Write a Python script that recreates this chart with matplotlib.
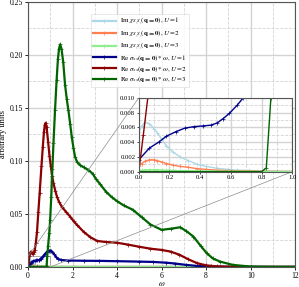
import numpy as np
import matplotlib
matplotlib.use('Agg')
import matplotlib.pyplot as plt
from matplotlib.ticker import MultipleLocator
from mpl_toolkits.axes_grid1.inset_locator import mark_inset

plt.rcParams['font.family'] = ['Liberation Serif', 'DejaVu Serif']
plt.rcParams['mathtext.fontset'] = 'stix'

# ── data ────────────────────────────────────────────────────
# Im chi_SzSz(q=0) for U = 1, 2, 3
w_im = [0.0, 0.02, 0.04, 0.07, 0.1, 0.12, 0.15, 0.18, 0.22, 0.27, 0.32, 0.38,
        0.44, 0.51, 0.58, 0.64, 0.72, 0.81, 0.9, 1.0, 1.5, 2.0, 4.0, 8.0, 12.0]
im_u1 = [0.0054, 0.0062, 0.0067, 0.0065, 0.0058, 0.0053, 0.0044, 0.0035, 0.0027,
         0.0020, 0.0015, 0.0010, 0.0007, 0.00045, 0.0003, 0.0002, 0.00015,
         0.0001, 0.00007, 0.00005, 0.0, 0.0, 0.0, 0.0, 0.0]
im_u2 = [0.0008, 0.0011, 0.0014, 0.0016, 0.0016, 0.0015, 0.0013, 0.0011, 0.0009,
         0.0007, 0.0006, 0.0004, 0.0003, 0.0002, 0.00015, 0.00012, 0.0001,
         0.00005, 0.00003, 0.00002, 0.0, 0.0, 0.0, 0.0, 0.0]
im_u3 = [0.0001, 0.00018, 0.00024, 0.00027, 0.00027, 0.00025, 0.00023, 0.0002,
         0.00017, 0.00014, 0.00012, 0.0001, 0.00008, 0.00006, 0.00005, 0.00004,
         0.00003, 0.00002, 0.00001, 0.0, 0.0, 0.0, 0.0, 0.0, 0.0]

# Re sigma_xx(q=0)*omega, U = 1
w_u1 = [0.0, 0.07, 0.13, 0.18, 0.24, 0.3, 0.36, 0.42, 0.47, 0.51, 0.55, 0.59,
        0.64, 0.68, 0.75, 0.85, 0.95, 1.0, 1.05, 1.15, 1.25, 1.35, 1.5, 1.8,
        2.5, 3.2, 4.0, 5.0, 5.6, 6.2, 6.6, 7.1, 7.6, 8.2, 9.0, 10.0, 12.0]
re_u1 = [0.0016, 0.0032, 0.0040, 0.0048, 0.0054, 0.0059, 0.0061, 0.0062, 0.0063,
         0.0066, 0.0072, 0.0079, 0.0090, 0.0100, 0.0120, 0.0143, 0.0153, 0.0154,
         0.0150, 0.0125, 0.0095, 0.0075, 0.0065, 0.0060, 0.0058, 0.0057, 0.0054,
         0.0050, 0.0047, 0.0040, 0.0032, 0.0019, 0.0009, 0.0004, 0.0001, 0.0, 0.0]

# Re sigma_xx(q=0)*omega, U = 2
w_u2 = [0.0, 0.03, 0.06, 0.1, 0.13, 0.17, 0.22, 0.27, 0.3, 0.35, 0.4, 0.46,
        0.52, 0.6, 0.66, 0.71, 0.75, 0.79, 0.83, 0.9, 0.96, 1.02, 1.08, 1.14,
        1.22, 1.3, 1.4, 1.51, 1.7, 1.89, 2.05, 2.2, 2.5, 2.8, 3.1, 3.5, 4.0,
        4.5, 5.0, 5.5, 6.0, 6.4, 6.8, 7.2, 7.6, 8.0, 8.5, 9.0, 10.0, 12.0]
re_u2 = [0.0, 0.005, 0.0102, 0.0135, 0.0145, 0.0135, 0.0120, 0.0140, 0.0160,
         0.0230, 0.0330, 0.0520, 0.0700, 0.0950, 0.1130, 0.1270, 0.1340, 0.1360,
         0.1320, 0.1180, 0.1050, 0.0950, 0.0860, 0.0790, 0.0720, 0.0660, 0.0610,
         0.0570, 0.0520, 0.0475, 0.0430, 0.0396, 0.0330, 0.0280, 0.0245, 0.0235,
         0.0228, 0.0210, 0.0190, 0.0172, 0.0160, 0.0145, 0.0115, 0.0072, 0.0035,
         0.0015, 0.0004, 0.0001, 0.0, 0.0]

# Re sigma_xx(q=0)*omega, U = 3
w_u3 = [0.0, 0.2, 0.4, 0.6, 0.8, 0.83, 0.86, 0.9, 0.95, 0.99, 1.04, 1.09, 1.14,
        1.21, 1.28, 1.34, 1.39, 1.44, 1.5, 1.58, 1.66, 1.74, 1.81, 1.89, 1.96,
        2.04, 2.11, 2.2, 2.34, 2.5, 2.71, 2.9, 3.05, 3.24, 3.5, 3.75, 4.0, 4.3,
        4.7, 5.1, 5.5, 6.0, 6.4, 6.83, 7.1, 7.43, 7.75, 8.03, 8.3, 8.63, 9.2,
        10.0, 11.0, 12.0]
re_u3 = [0.0, 0.0, 0.0, 0.0, 0.0, 0.0005, 0.010, 0.020, 0.032, 0.044, 0.066,
         0.092, 0.117, 0.148, 0.176, 0.196, 0.206, 0.210, 0.206, 0.193, 0.172,
         0.158, 0.148, 0.135, 0.123, 0.112, 0.104, 0.099, 0.096, 0.094, 0.0915,
         0.088, 0.083, 0.078, 0.071, 0.066, 0.062, 0.058, 0.054, 0.047, 0.040,
         0.035, 0.036, 0.0374, 0.034, 0.0286, 0.020, 0.0129, 0.008, 0.005,
         0.0019, 0.0003, 0.0, 0.0]

series = [
    (w_im, im_u1, 'lightblue', r'$\mathrm{Im}\ \chi_{S_zS_z}(\mathbf{q=0}), U=1$'),
    (w_im, im_u2, 'coral', r'$\mathrm{Im}\ \chi_{S_zS_z}(\mathbf{q=0}), U=2$'),
    (w_im, im_u3, 'lightgreen', r'$\mathrm{Im}\ \chi_{S_zS_z}(\mathbf{q=0}), U=3$'),
    (w_u1, re_u1, 'darkblue', r'$\mathrm{Re}\ \sigma_{xx}(\mathbf{q=0})*\omega, U=1$'),
    (w_u2, re_u2, 'darkred', r'$\mathrm{Re}\ \sigma_{xx}(\mathbf{q=0})*\omega, U=2$'),
    (w_u3, re_u3, 'darkgreen', r'$\mathrm{Re}\ \sigma_{xx}(\mathbf{q=0})*\omega, U=3$'),
]


def style_grid(a, xminor, yminor):
    a.xaxis.set_minor_locator(MultipleLocator(xminor))
    a.yaxis.set_minor_locator(MultipleLocator(yminor))
    a.grid(True, which='major', color='#d3d3d3', lw=1.0, ls='-')
    a.grid(True, which='minor', color='#d3d3d3', lw=0.6, ls='--')
    a.set_axisbelow(True)
    a.tick_params(which='minor', length=0)
    for s in a.spines.values():
        s.set_color('#555555')
        s.set_linewidth(0.8)


fig = plt.figure(figsize=(2.99, 2.87), dpi=100)
ax = fig.add_axes([0.094, 0.07, 0.893, 0.923])

for w, v, c, lab in series:
    ax.plot(w, v, color=c, lw=1.6, marker='+', ms=2.2, mew=0.5, label=lab)

ax.set_xlim(0, 12)
ax.set_ylim(0, 0.25)
ax.set_xticks(np.arange(0, 13, 2))
ax.set_yticks(np.arange(0, 0.26, 0.05))
ax.set_yticklabels(['0.00', '0.05', '0.10', '0.15', '0.20', '0.25'])
ax.set_xlabel(r'$\omega$', fontsize=6, labelpad=0)
ax.set_ylabel('arbitrary units', fontsize=6, labelpad=2)
ax.tick_params(labelsize=5.5, length=2, width=0.6, pad=1.5)
style_grid(ax, 1, 0.025)

leg = ax.legend(loc='upper left', bbox_to_anchor=(0.235, 0.955), fontsize=5.0,
                frameon=True, fancybox=False, borderpad=0.35, labelspacing=0.2,
                handlelength=3.2, handletextpad=0.6, borderaxespad=0)
leg.get_frame().set_edgecolor('#dddddd')
leg.get_frame().set_linewidth(0.6)

axins = fig.add_axes([0.464, 0.402, 0.514, 0.257])
for w, v, c, lab in series:
    axins.plot(w, v, color=c, lw=1.0, marker='+', ms=2.2, mew=0.5)
axins.set_xlim(0, 1.0)
axins.set_ylim(0, 0.010)
axins.set_xticks(np.arange(0, 1.01, 0.2))
axins.set_xticklabels(['0.0', '0.2', '0.4', '0.6', '0.8', '1.0'])
axins.set_yticks(np.arange(0, 0.0101, 0.002))
axins.set_yticklabels(['0.000', '0.002', '0.004', '0.006', '0.008', '0.010'])
axins.tick_params(labelsize=4.8, length=1.5, width=0.5, pad=1)
style_grid(axins, 0.1, 0.001)
axins.patch.set_facecolor('white')

mark_inset(ax, axins, loc1=2, loc2=4, fc='none', ec='0.55', lw=0.5)

fig.savefig('out.png', dpi=100)
